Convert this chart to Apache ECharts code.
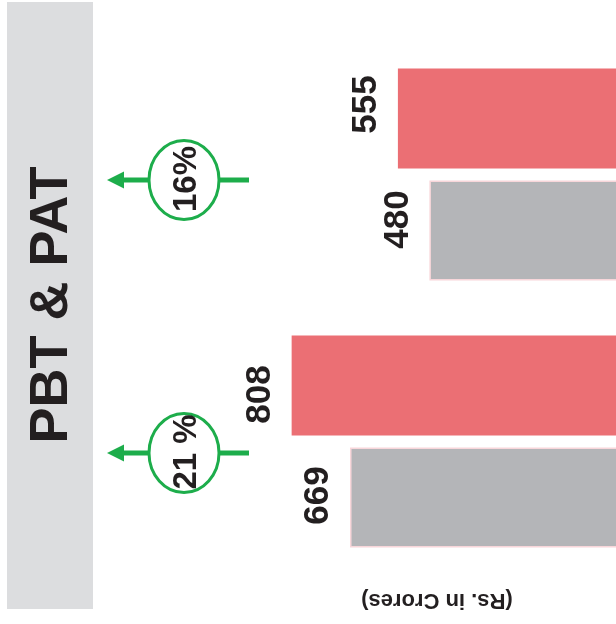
<!DOCTYPE html>
<html>
<head>
<meta charset="utf-8">
<script src="https://cdn.jsdelivr.net/npm/echarts@6/dist/echarts.min.js"></script>
<style>
html,body{margin:0;padding:0;background:#fff;}
#chart{width:616px;height:624px;}
</style>
</head>
<body>
<div id="chart"></div>
<script>
// ---- data ----
var categories = ['PAT', 'PBT'];
var currentYear = [555, 808];   // red bars
var previousYear = [480, 669];  // grey bars
var growthLabels = ['16%', '21 %'];
var titleText = 'PBT & PAT';
var unitText = '(Rs. in Crores)';

// ---- style / layout ----
var RED = '#eb6f74';
var GREY = '#b4b5b8';
var GREEN = '#1dad4b';
var TEXT = '#231f20';
var FONT = '"Liberation Sans", Arial, Helvetica, sans-serif';
var arrowY = [180, 453];
// label shift along the (rotated) text direction; positive = up on screen
var currentLabelShift = [14, -9];
var previousLabelShift = [11, 2];

var chart = echarts.init(document.getElementById('chart'), null, {renderer: 'canvas'});

function labelCfg(dx) {
  return {
    show: true,
    position: 'left',
    rotate: 90,
    align: 'center',
    verticalAlign: 'bottom',
    distance: 14,
    offset: [dx, 0],
    fontSize: 35,
    fontWeight: 'bold',
    fontFamily: FONT,
    color: TEXT
  };
}

function items(values, shifts) {
  return values.map(function (v, i) {
    return {value: v, label: labelCfg(shifts[i])};
  });
}

function growthGraphic(i) {
  var y = arrowY[i];
  var cx = 184;
  return [
    {type: 'line', shape: {x1: 120, y1: y, x2: 149, y2: y}, style: {stroke: GREEN, lineWidth: 5}},
    {type: 'line', shape: {x1: 219, y1: y, x2: 249, y2: y}, style: {stroke: GREEN, lineWidth: 5}},
    {type: 'polygon', shape: {points: [[107, y], [124, y - 8.5], [124, y + 8.5]]}, style: {fill: GREEN}},
    {type: 'ellipse', shape: {cx: cx, cy: y, rx: 35, ry: 39.5}, style: {fill: '#fff', stroke: GREEN, lineWidth: 3}},
    {type: 'text', x: 187, y: y - 1, rotation: Math.PI / 2,
      style: {text: growthLabels[i], align: 'center', verticalAlign: 'middle',
        fontSize: 33, fontWeight: 'bold', fontFamily: FONT, fill: TEXT}}
  ];
}

var graphics = [
  {type: 'rect', shape: {x: 7, y: 2, width: 86, height: 607}, style: {fill: '#dcdddf'}, z: -1},
  {type: 'text', x: 52, y: 305, rotation: Math.PI / 2,
    style: {text: titleText, align: 'center', verticalAlign: 'middle',
      fontSize: 54, fontWeight: 'bold', fontFamily: FONT, fill: TEXT}},
  {type: 'text', x: 437, y: 600, rotation: Math.PI,
    style: {text: unitText, align: 'center', verticalAlign: 'middle',
      fontSize: 22, fontWeight: 'bold', fontFamily: FONT, fill: TEXT}}
].concat(growthGraphic(0), growthGraphic(1));

chart.setOption({
  animation: false,
  backgroundColor: '#ffffff',
  grid: {left: 211, width: 420, top: 41, height: 534, containLabel: false, outerBoundsMode: 'none'},
  xAxis: {type: 'value', min: 0, max: 1000, inverse: true, show: false},
  yAxis: {type: 'category', data: categories, inverse: true, show: false},
  series: [
    {name: 'Current', type: 'bar', data: items(currentYear, currentLabelShift), barWidth: 100, barGap: '12%',
      itemStyle: {color: RED}},
    {name: 'Previous', type: 'bar', data: items(previousYear, previousLabelShift), barWidth: 100,
      itemStyle: {color: GREY, borderColor: '#f8d6da', borderWidth: 1.5}}
  ],
  graphic: graphics
});
</script>
</body>
</html>
